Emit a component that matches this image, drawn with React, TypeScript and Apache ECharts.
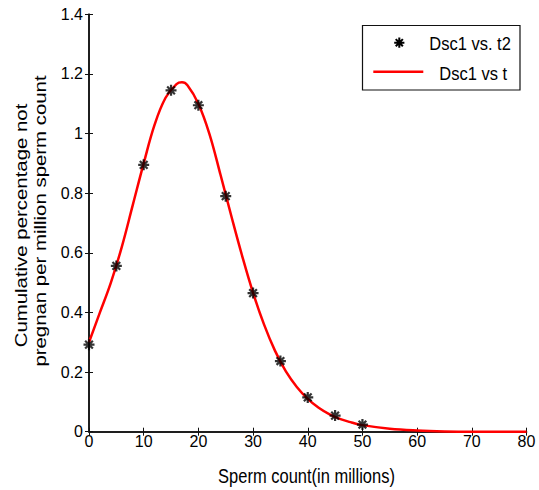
import React, { useEffect, useRef } from "react";
import * as echarts from "echarts";

const sampleX = [0, 5, 10, 15, 20, 25, 30, 35, 40, 45, 50];
const sampleY = [0.292, 0.556, 0.895, 1.145, 1.095, 0.79, 0.465, 0.237, 0.115, 0.054, 0.024];

const curveX = [0, 2, 4, 6, 8, 10, 12, 14, 16, 17, 18, 20, 22, 24, 26, 28, 30, 32, 34, 36, 38, 40, 42, 44, 46, 48, 50, 55, 60, 65, 70, 75, 80];
const curveY = [0.3, 0.4, 0.5, 0.62, 0.76, 0.9, 1.03, 1.12, 1.166, 1.172, 1.162, 1.1, 1.0, 0.865, 0.725, 0.59, 0.466, 0.36, 0.272, 0.202, 0.15, 0.11, 0.08, 0.058, 0.042, 0.031, 0.022, 0.01, 0.004, 0.001, 0, 0, 0];

const xTickStep = 10;
const yTickStep = 0.2;

const legendNames = ["Dsc1 vs. t2", "Dsc1 vs t"];
const xTitle = "Sperm count(in millions)";
const yTitleLines = ["Cumulative percentage not", "pregnan per million sperm count"];

const STAR =
  "M-1.2,-6L1.2,-6L1.2,6L-1.2,6Z M-6,-1.2L6,-1.2L6,1.2L-6,1.2Z M-3.35,-5.05L5.05,3.35L3.35,5.05L-5.05,-3.35Z M5.05,-3.35L-3.35,5.05L-5.05,3.35L3.35,-5.05Z M-2.5,-2.5L2.5,-2.5L2.5,2.5L-2.5,2.5Z";

let registered = false;

const FONT = '"Liberation Sans", Arial, sans-serif';

export default function App() {
  const ref = useRef<HTMLDivElement>(null);
  useEffect(() => {
    if (!ref.current) return;
    if (!registered) {
      echarts.graphic.registerShape("asteriskMark", echarts.graphic.extendPath(STAR, {}) as any);
      registered = true;
    }
    const chart = echarts.init(ref.current, undefined, { renderer: "svg" });
    const axisLine = { show: true, lineStyle: { color: "#111", width: 1.5 } };
    const tick = { show: true, inside: true, length: 4, lineStyle: { color: "#111", width: 1 } };
    const labelStyle = { color: "#000", fontSize: 16, fontFamily: FONT };
    chart.setOption({
      animation: false,
      backgroundColor: "#fff",
      grid: { left: 89, right: 12.5, top: 14.3, bottom: 58.3, containLabel: false },
      xAxis: [
        {
          type: "value", min: 0, max: 80, interval: xTickStep, position: "bottom",
          axisLine, axisTick: tick, splitLine: { show: false },
          axisLabel: { ...labelStyle, margin: 2 },
        },
        {
          type: "value", min: 0, max: 80, interval: xTickStep, position: "top",
          axisLine, axisTick: tick, splitLine: { show: false }, axisLabel: { show: false },
        },
      ],
      yAxis: [
        {
          type: "value", min: 0, max: 1.4, interval: yTickStep, position: "left",
          axisLine, axisTick: tick, splitLine: { show: false },
          axisLabel: { ...labelStyle, margin: 6 },
        },
        {
          type: "value", min: 0, max: 1.4, interval: yTickStep, position: "right",
          axisLine, axisTick: tick, splitLine: { show: false }, axisLabel: { show: false },
        },
      ],
      series: [
        {
          name: legendNames[1],
          type: "line",
          data: curveX.map((x, i) => [x, curveY[i]]),
          smooth: 0.4,
          symbol: "none",
          lineStyle: { color: "#ff0000", width: 2.5 },
          z: 2,
        },
        {
          name: legendNames[0],
          type: "scatter",
          data: sampleX.map((x, i) => [x, sampleY[i]]),
          symbol: "path://" + STAR,
          symbolSize: 11,
          itemStyle: { color: "#000" },
          z: 3,
        },
      ],
      graphic: [
        {
          type: "rect",
          shape: { x: 362.5, y: 25.5, width: 157.5, height: 64.5 },
          style: { fill: "#fff", stroke: "#111", lineWidth: 1.2 },
          z: 10,
        },
        {
          type: "asteriskMark",
          x: 399.3, y: 42.7, scaleX: 0.85, scaleY: 0.85,
          style: { fill: "#000" },
          z: 11,
        },
        {
          type: "line",
          shape: { x1: 373.3, y1: 71.7, x2: 423.3, y2: 71.7 },
          style: { stroke: "#ff0000", lineWidth: 2.5 },
          z: 11,
        },
        {
          type: "text", x: 429.3, y: 44, scaleY: 1.12, z: 11,
          style: { text: legendNames[0], fill: "#000", fontSize: 16.5, fontFamily: FONT, textAlign: "left", textVerticalAlign: "middle" },
        },
        {
          type: "text", x: 439.3, y: 73.7, scaleY: 1.12, z: 11,
          style: { text: legendNames[1], fill: "#000", fontSize: 16.5, fontFamily: FONT, textAlign: "left", textVerticalAlign: "middle" },
        },
        {
          type: "text", x: 306.5, y: 476.3, scaleY: 1.18, z: 11,
          style: { text: xTitle, fill: "#000", fontSize: 16.5, fontFamily: FONT, textAlign: "center", textVerticalAlign: "middle" },
        },
        {
          type: "text", x: 20.8, y: 225.5, rotation: Math.PI / 2, scaleX: 1.2, z: 11,
          style: { text: yTitleLines[0], fill: "#000", fontSize: 17, fontFamily: FONT, textAlign: "center", textVerticalAlign: "middle" },
        },
        {
          type: "text", x: 40.6, y: 221, rotation: Math.PI / 2, scaleX: 1.2, z: 11,
          style: { text: yTitleLines[1], fill: "#000", fontSize: 17, fontFamily: FONT, textAlign: "center", textVerticalAlign: "middle" },
        },
      ],
    });
    return () => chart.dispose();
  }, []);
  return (
    <div
      ref={ref}
      style={{ position: "fixed", left: 0, top: 0, width: 539, height: 490, background: "#fff" }}
    />
  );
}
